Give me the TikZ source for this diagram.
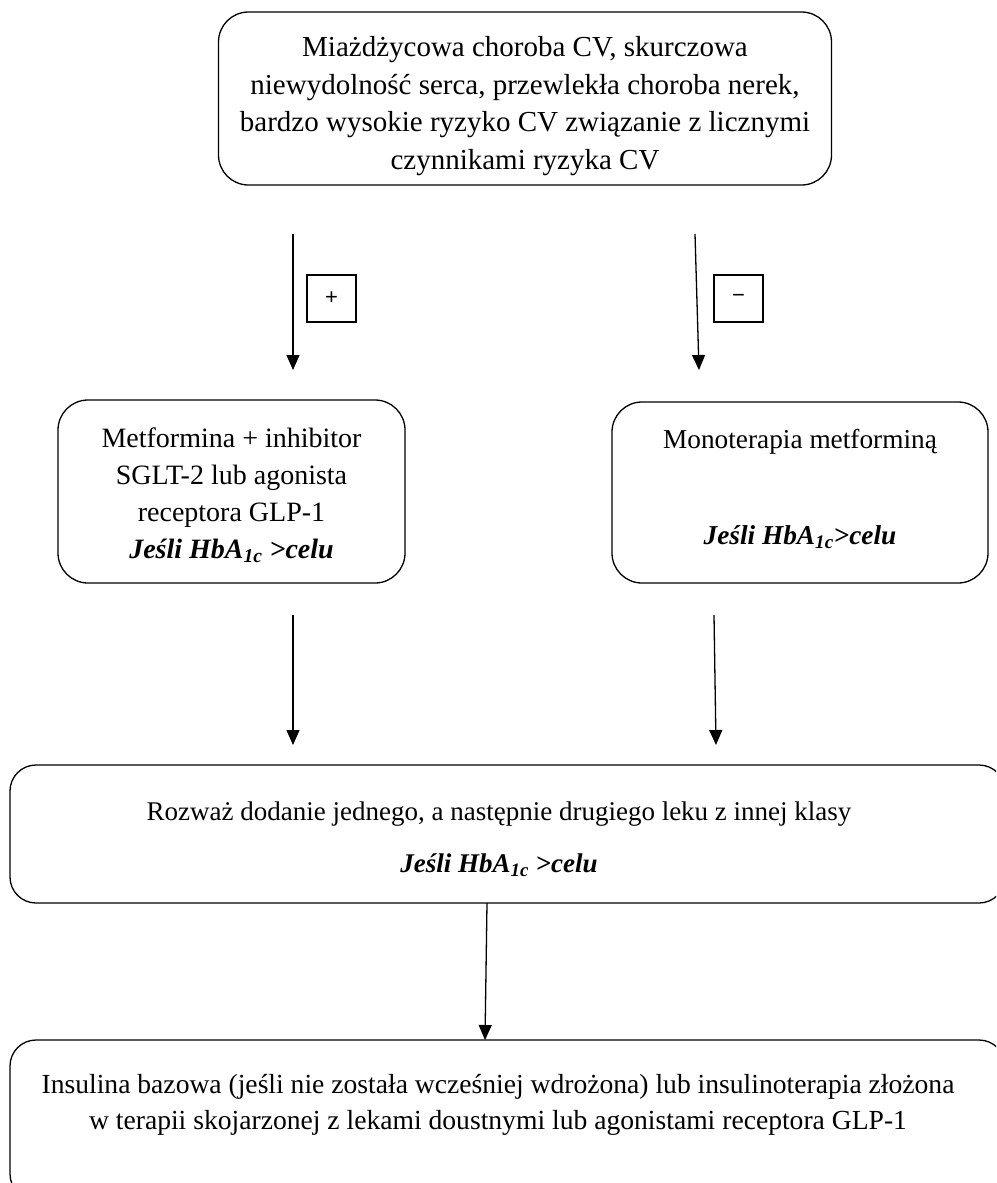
\documentclass[tikz,border=0pt]{standalone}
\usepackage{fontspec}
\setmainfont{Liberation Serif}
\newfontfamily\signfont{Liberation Sans}
\usetikzlibrary{arrows.meta}
\newcommand{\hba}{\textbf{\textit{Jeśli HbA\textsubscript{1c}}}}
\begin{document}
\begin{tikzpicture}[x=1pt,y=-1pt,
  box/.style={draw, line width=1.3pt, rounded corners=30pt, inner sep=0pt},
  txt/.style={font=\fontsize{27}{37.5}\selectfont, align=center, inner sep=0pt},
  sgn/.style={draw, line width=1.2pt, minimum width=49pt, minimum height=47pt, inner sep=0pt,
    font=\signfont\fontsize{22}{24}\selectfont},
  arr/.style={line width=1.3pt, -{Triangle[width=13pt,length=15pt]}}]
\useasboundingbox (0,0) rectangle (996,1183);
\clip (0,0) rectangle (996,1183);
% boxes
\node[box, minimum width=613pt, minimum height=173pt] (top) at (525,98.5) {};
\node[txt, font=\fontsize{29}{37.8}\selectfont] (toptext) at (525,106) {Miażdżycowa choroba CV, skurczowa\\
niewydolność serca, przewlekła choroba nerek,\\
bardzo wysokie ryzyko CV związanie z licznymi\\
czynnikami ryzyka CV};
\node[box, minimum width=347pt, minimum height=183pt] (left) at (231.5,491.5) {};
\node[txt, font=\fontsize{28}{37}\selectfont] (lefttext) at (231.5,495) {Metformina + inhibitor\\
SGLT-2 lub agonista\\
receptora GLP-1\\
\hba\ \textbf{\textit{>celu}}};
\node[box, minimum width=376pt, minimum height=181pt] (right) at (800,492.5) {};
\node[txt, font=\fontsize{27.3}{37.5}\selectfont] (righttext) at (800,489) {Monoterapia metforminą\\[58.5pt]
\hba\textbf{\textit{>celu}}};
\node[box, rounded corners=26pt, minimum width=995pt, minimum height=138pt] (third) at (507.5,834) {};
\node[txt] (thirdtext) at (499,839) {Rozważ dodanie jednego, a następnie drugiego leku z innej klasy\\[14.5pt]
\hba\ \textbf{\textit{>celu}}};
\node[box, rounded corners=26pt, minimum width=995pt, minimum height=160pt] (fourth) at (507.5,1120) {};
\node[txt, font=\fontsize{27.6}{36}\selectfont] (fourthtext) at (498,1105) {Insulina bazowa (jeśli nie została wcześniej wdrożona) lub insulinoterapia złożona\\
w terapii skojarzonej z lekami doustnymi lub agonistami receptora GLP-1};
% sign boxes
\node[sgn] (plus) at (331.5,298.5) {+};
\node[sgn] (minus) at (738.5,298.5) {−};
% arrows
\coordinate (a1s) at (293,234); \coordinate (a1e) at (293,370);
\coordinate (a2s) at (695,234); \coordinate (a2e) at (699,370);
\coordinate (b1s) at (293,615); \coordinate (b1e) at (293,745);
\coordinate (b2s) at (714,615); \coordinate (b2e) at (716,745);
\coordinate (c1s) at (487,903); \coordinate (c1e) at (485,1040);
\draw[arr] (a1s) -- (a1e);
\draw[arr] (a2s) -- (a2e);
\draw[arr] (b1s) -- (b1e);
\draw[arr] (b2s) -- (b2e);
\draw[arr] (c1s) -- (c1e);
\end{tikzpicture}
\end{document}
